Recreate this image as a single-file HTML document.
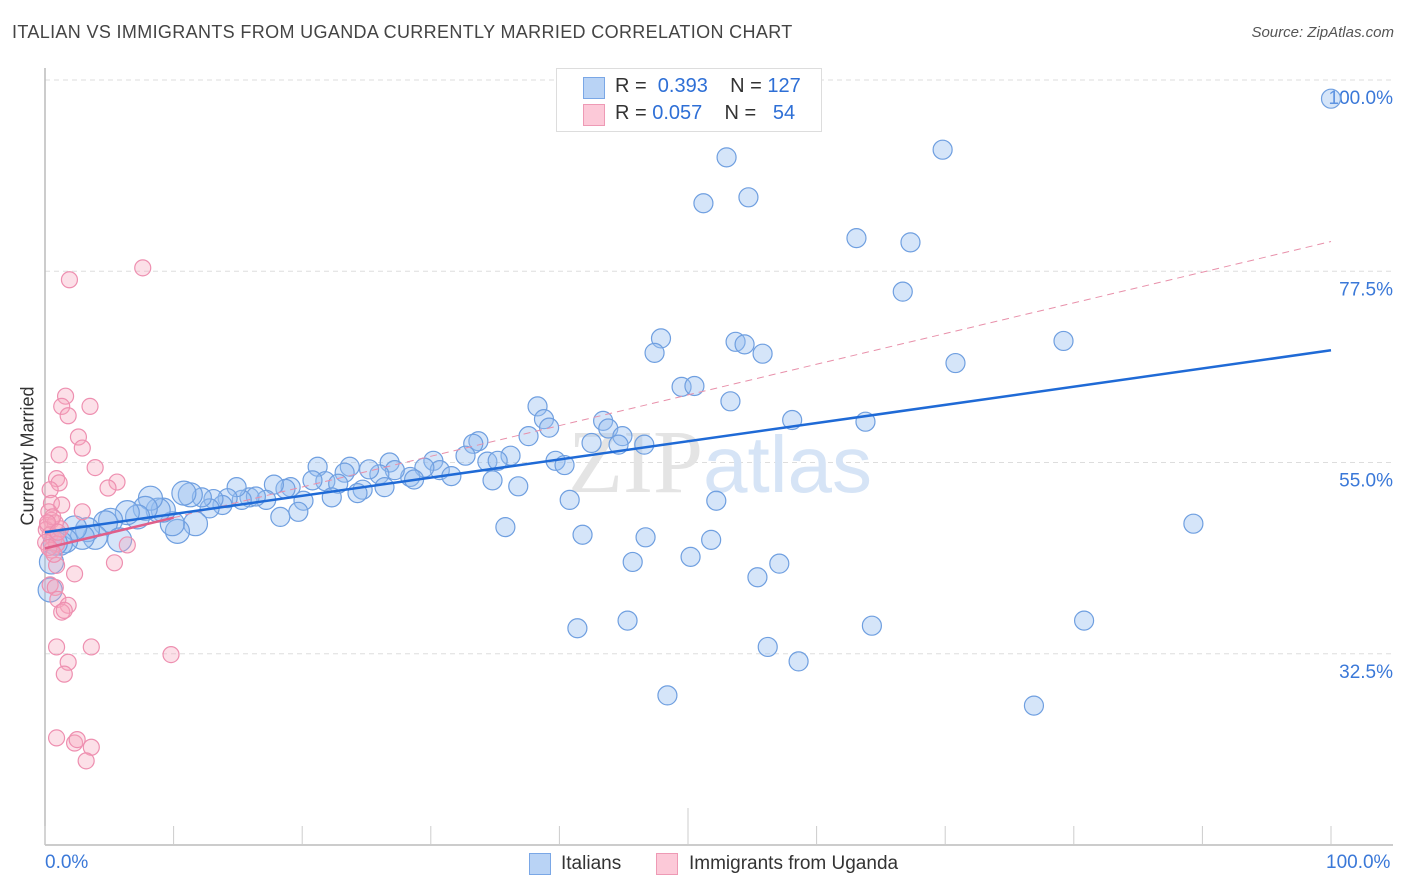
<!DOCTYPE html>
<html><head><meta charset="utf-8"><style>
body{margin:0;background:#fff;font-family:"Liberation Sans",sans-serif;}
#wrap{position:relative;width:1406px;height:892px;overflow:hidden;}
.t{position:absolute;white-space:nowrap;}
</style></head><body>
<div id="wrap">
<div class="t" style="left:12px;top:22px;font-size:18px;color:#444;letter-spacing:0.35px;">ITALIAN VS IMMIGRANTS FROM UGANDA CURRENTLY MARRIED CORRELATION CHART</div>
<div class="t" style="right:12px;top:24px;font-size:15px;color:#555;font-style:italic;">Source: ZipAtlas.com</div>
<div class="t" style="left:-32px;top:455px;font-size:18px;color:#333;transform:rotate(-90deg);transform-origin:center;width:120px;text-align:center;">Currently Married</div>
<svg id="plot" width="1406" height="892" style="position:absolute;left:0;top:0"></svg>
<div style="position:absolute;left:556px;top:68px;width:264px;height:62px;border:1px solid #ddd;background:#fff;font-size:20px;">
 <div style="position:absolute;left:26px;top:8px;width:20px;height:20px;background:#b9d3f5;border:1px solid #7aa7e6;"></div>
 <div class="t" style="left:58px;top:6px;color:#333;">R = <span style="color:#2e6fd6">&nbsp;0.393</span>&nbsp;&nbsp;&nbsp;&nbsp;N = <span style="color:#2e6fd6">127</span></div>
 <div style="position:absolute;left:26px;top:35px;width:20px;height:20px;background:#fcc9d8;border:1px solid #ee9ab5;"></div>
 <div class="t" style="left:58px;top:33px;color:#333;">R = <span style="color:#2e6fd6">0.057</span>&nbsp;&nbsp;&nbsp;&nbsp;N = <span style="color:#2e6fd6">&nbsp;&nbsp;54</span></div>
</div>
<div class="t" style="left:45px;top:852px;font-size:19px;color:#3a78d8;">0.0%</div>
<div class="t" style="left:1326px;top:852px;font-size:19px;color:#3a78d8;">100.0%</div>
<div style="position:absolute;left:529px;top:853px;width:20px;height:20px;background:#b9d3f5;border:1px solid #7aa7e6;"></div>
<div class="t" style="left:561px;top:853px;font-size:19px;color:#333;">Italians</div>
<div style="position:absolute;left:656px;top:853px;width:20px;height:20px;background:#fcc9d8;border:1px solid #ee9ab5;"></div>
<div class="t" style="left:689px;top:853px;font-size:19px;color:#333;">Immigrants from Uganda</div>
</div>
<script>
const yTicks=[100,77.5,55,32.5];
const yTickLabels=["100.0%","77.5%","55.0%","32.5%"];
const xTicks=[0,10,20,30,40,50,60,70,80,90,100];
const blueX=[100,53.0,69.8,51.2,54.7,63.1,67.3,66.7,47.9,47.4,53.7,54.4,55.8,79.2,70.8,49.5,50.5,53.3,38.3,58.1,63.8,43.4,38.8,39.2,43.8,37.6,44.9,42.5,44.6,46.6,33.7,33.3,32.7,36.2,34.4,35.2,39.7,40.4,30.2,26.8,30.7,29.5,31.6,34.8,36.8,28.4,28.7,27.2,26.0,25.2,23.7,23.3,21.2,21.8,20.8,22.8,24.7,26.4,24.3,22.3,20.1,19.7,18.3,19.1,18.7,17.8,17.2,15.9,16.4,15.3,14.9,14.2,13.8,13.1,12.8,12.2,11.3,10.8,11.7,10.3,9.9,9.2,8.8,8.2,7.8,7.2,6.4,5.1,4.7,5.8,3.9,3.3,2.9,2.3,1.6,1.2,0.8,0.5,0.4,89.3,52.2,40.8,35.8,41.8,46.7,51.8,45.7,50.2,57.1,55.4,41.4,45.3,64.3,80.8,56.2,58.6,48.4,76.9];
const blueY=[97.8,90.9,91.8,85.5,86.2,81.4,80.9,75.1,69.6,67.9,69.2,68.9,67.8,69.3,66.7,63.9,64.0,62.2,61.6,60.0,59.8,59.9,60.1,59.1,59.0,58.1,58.1,57.3,57.1,57.1,57.5,57.2,55.8,55.8,55.1,55.2,55.2,54.7,55.2,55.0,54.1,54.4,53.4,52.9,52.2,53.3,53.0,54.1,53.6,54.2,54.5,53.8,54.5,52.8,52.9,52.5,51.8,52.1,51.4,50.9,50.5,49.2,48.6,52.1,51.9,52.4,50.6,50.9,51.0,50.6,52.1,50.8,50.0,50.7,49.6,50.9,51.2,51.4,47.8,46.9,47.8,49.4,49.4,50.8,49.6,48.6,49.1,48.2,47.9,45.9,46.2,47.1,46.2,47.3,45.8,45.5,45.5,43.3,40.0,47.8,50.5,50.6,47.4,46.5,46.2,45.9,43.3,43.9,43.1,41.5,35.5,36.4,35.8,36.4,33.3,31.6,27.6,26.4];
const pinkX=[7.6,1.9,1.6,1.3,3.5,1.8,2.6,2.9,1.1,3.9,0.9,5.6,1.1,4.9,0.4,0.5,1.3,2.9,0.3,0.5,0.2,0.8,0.1,0.4,0.7,0.05,1.2,0.9,6.4,0.5,5.4,0.9,2.3,0.4,0.8,1.0,1.8,1.3,1.5,3.6,0.9,1.8,1.5,9.8,0.9,2.3,2.5,3.6,3.2,0.6,0.2,0.3,0.7,1.0];
const pinkY=[77.9,76.5,62.8,61.6,61.6,60.5,58.0,56.7,55.9,54.4,53.1,52.7,52.6,52.0,51.8,50.2,50.0,49.2,49.2,48.2,47.6,47.9,47.1,46.5,46.0,45.6,47.2,45.4,45.3,44.7,43.2,42.9,41.9,40.6,40.3,38.9,38.2,37.4,37.6,33.3,33.3,31.5,30.1,32.4,22.6,22.0,22.4,21.5,19.9,48.6,47.9,45.0,44.2,46.8];
const blueTrend=[46.8,68.2];
const pinkTrend=[44.9,81.0];
const X0=45,X1=1331;
const xs=v=>X0+(X1-X0)*v/100;
const ys=v=>80+(100-v)*8.5;
const NS="http://www.w3.org/2000/svg";
const svg=document.getElementById('plot');
function mk(tag,attrs){const e=document.createElementNS(NS,tag);for(const k in attrs)e.setAttribute(k,attrs[k]);svg.appendChild(e);return e;}
yTicks.forEach((t,i)=>{
 const g=mk('line',{x1:45,x2:1393,y1:ys(t),y2:ys(t),stroke:'#ddd','stroke-dasharray':'5,4'});
 
 
 const tx=mk('text',{x:1393,y:ys(t)+24,'text-anchor':'end','font-size':19,fill:'#3a78d8','font-family':'Liberation Sans, sans-serif'});
 tx.textContent=yTickLabels[i];
 
 
});
const ax=mk('line',{x1:45,x2:1393,y1:845,y2:845,stroke:'#bbb','stroke-width':1.5});


const ay=mk('line',{x1:45,x2:45,y1:68,y2:845,stroke:'#bbb','stroke-width':1.5});


xTicks.forEach(t=>{
 const l=mk('line',{x1:xs(t),x2:xs(t),y1:t===50?808:826,y2:845,stroke:'#ccc'});
 
 
});
const wm=mk('text',{x:720,y:492,'text-anchor':'middle','font-size':90,fill:'#e6eef8','font-family':'Liberation Serif, serif'});
wm.innerHTML='<tspan fill="#e4e4e4">ZIP</tspan><tspan font-family="Liberation Sans, sans-serif" font-size="80" fill="#d6e4f6">atlas</tspan>';


blueX.forEach((x,i)=>{
 const r=(x<12)?12:9.5;
 const c=mk('circle',{cx:xs(x),cy:ys(blueY[i]),r:r,fill:'rgba(150,190,240,0.4)',stroke:'#6f9fe0','stroke-width':1.2});
 
 
});
pinkX.forEach((x,i)=>{
 const c=mk('circle',{cx:xs(x),cy:ys(pinkY[i]),r:8,fill:'rgba(245,165,190,0.35)',stroke:'#ee8fb0','stroke-width':1.2});
 
 
});
const pd=mk('line',{x1:xs(0),y1:ys(pinkTrend[0]),x2:xs(100),y2:ys(pinkTrend[1]),stroke:'#e890aa','stroke-width':1,'stroke-dasharray':'7,5'});


const ps=mk('line',{x1:xs(0),y1:ys(pinkTrend[0]),x2:xs(10),y2:ys(pinkTrend[0]+(pinkTrend[1]-pinkTrend[0])*0.1),stroke:'#e05f8a','stroke-width':2.5});


const bl=mk('line',{x1:xs(0),y1:ys(blueTrend[0]),x2:xs(100),y2:ys(blueTrend[1]),stroke:'#1f6ad6','stroke-width':2.5});


</script>
</body></html>
